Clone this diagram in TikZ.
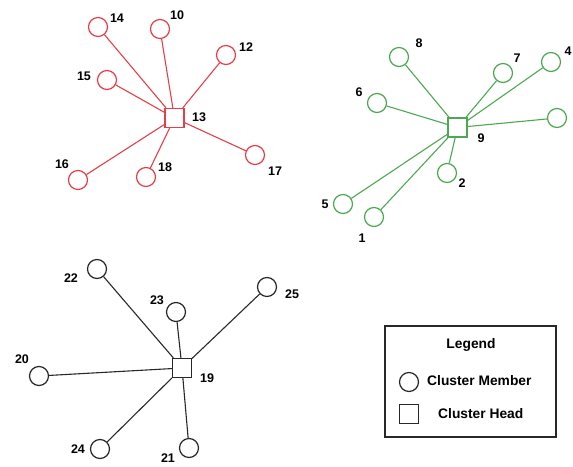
\documentclass[tikz,border=0pt]{standalone}
\usepackage{fontspec}
\setmainfont{Liberation Sans}
\begin{document}
\definecolor{redc}{RGB}{228,64,72}
\definecolor{greenc}{RGB}{78,168,82}
\definecolor{blackc}{RGB}{40,40,40}
\begin{tikzpicture}[x=1pt,y=-1pt,
  member/.style={circle,draw,line width=1.2pt,minimum size=19pt,inner sep=0pt},
  head/.style={rectangle,draw,line width=1.2pt,minimum size=19pt,inner sep=0pt},
  lbl/.style={font=\fontsize{12.5}{13}\selectfont\bfseries,inner sep=0pt},
  legtext/.style={font=\fontsize{13.8}{15}\selectfont\bfseries,inner sep=0pt},
  link/.style={line width=1.1pt}]
\useasboundingbox (0,0) rectangle (573,466);

% ---- red cluster, head 13
\begin{scope}[redc]
\node[head] (h13) at (174.5,118) {};
\foreach \n/\x/\y in {14/98/27, 10/160/29, 12/226/55, 15/107/80, 16/78/180, 18/146/177, 17/255/155}
  {\node[member] (c\n) at (\x,\y) {};
   \draw[link] (h13) -- (c\n);}
\end{scope}
\node[lbl] (l13) at (199,117) {13};
\node[lbl] (l14) at (117,18) {14};
\node[lbl] (l10) at (177,15) {10};
\node[lbl] (l12) at (246,47) {12};
\node[lbl] (l15) at (84,76) {15};
\node[lbl] (l16) at (62,164) {16};
\node[lbl] (l18) at (165,167) {18};
\node[lbl] (l17) at (275,171) {17};

% ---- green cluster, head 9
\begin{scope}[greenc]
\node[head] (h9) at (457.5,127.5) {};
\foreach \n/\x/\y in {8/399/57, 7/503/73, 4/551/62, 6/377/103, 3/557/118, 2/447/173, 5/343/204, 1/374/217}
  {\node[member] (c\n) at (\x,\y) {};
   \draw[link] (h9) -- (c\n);}
\end{scope}
\node[lbl] (l9) at (481,138) {9};
\node[lbl] (l8) at (419,43) {8};
\node[lbl] (l7) at (517,58) {7};
\node[lbl] (l4) at (568,51) {4};
\node[lbl] (l6) at (359,92) {6};
\node[lbl] (l2) at (462,183) {2};
\node[lbl] (l5) at (325,204) {5};
\node[lbl] (l1) at (362,238) {1};

% ---- black cluster, head 19
\begin{scope}[blackc]
\node[head] (h19) at (182,368) {};
\foreach \n/\x/\y in {22/97/269, 23/176/312, 25/267/287, 20/39/376, 24/100/449, 21/189/448}
  {\node[member] (c\n) at (\x,\y) {};
   \draw[link] (h19) -- (c\n);}
\end{scope}
\node[lbl] (l19) at (207,378) {19};
\node[lbl] (l22) at (71,278) {22};
\node[lbl] (l23) at (157,300) {23};
\node[lbl] (l25) at (292,294) {25};
\node[lbl] (l20) at (22,359) {20};
\node[lbl] (l24) at (78,449) {24};
\node[lbl] (l21) at (168,458) {21};

% ---- legend
\draw[blackc,line width=1.2pt] (385,326) rectangle (556,437);
\node[legtext] (legtitle) at (471,345) {Legend};
\node[member,blackc] (legc) at (409,382) {};
\node[legtext,anchor=west] (legm) at (427,381) {Cluster Member};
\node[head,blackc] (legs) at (409,414) {};
\node[legtext,anchor=west] (legh) at (438,414) {Cluster Head};
\end{tikzpicture}
\end{document}
